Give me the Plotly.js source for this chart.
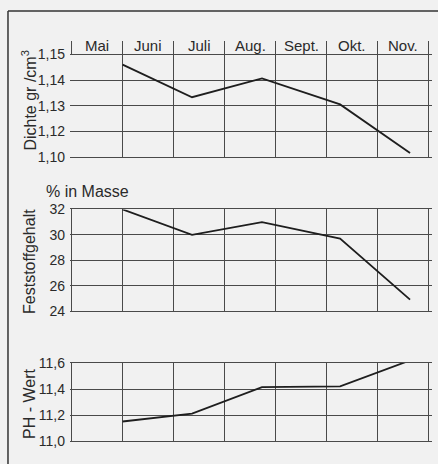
<!DOCTYPE html>
<html>
<head>
<meta charset="utf-8">
<script src="https://cdn.plot.ly/plotly-3.0.1.min.js"></script>
<style>html,body{margin:0;padding:0;background:#f1f1f1;}#chart{width:438px;height:464px;}</style>
</head>
<body>
<div id="chart"></div>
<script>
// Month columns (x axis: 0 = start of Mai, 7 = end of Nov.)
const months = ['Mai', 'Juni', 'Juli', 'Aug.', 'Sept.', 'Okt.', 'Nov.'];
const monthCenters = [0.5, 1.5, 2.5, 3.5, 4.5, 5.5, 6.5];
const monthBounds = [0, 1, 2, 3, 4, 5, 6, 7];
const monthBoundsTop = [1, 2, 3, 4, 5, 6, 7];
// Sampling positions (in month units from start of Mai)
const samplePos = [1.0, 2.36, 3.73, 5.26, 6.63];

// Dichte gr/cm3 (axis as printed: bottom line labelled 1,10)
const dichte = [1.146, 1.1333, 1.1406, 1.1305, 1.1116];
const dichteTicks = [1.11, 1.12, 1.13, 1.14, 1.15];
const dichteTickText = ['1,10', '1,12', '1,13', '1,14', '1,15'];

// Feststoffgehalt, % in Masse
const feststoff = [32.0, 30.0, 31.0, 29.7, 24.9];
const feststoffTicks = [24, 26, 28, 30, 32];
const feststoffTickText = ['24', '26', '28', '30', '32'];

// PH - Wert
const ph = [11.15, 11.21, 11.415, 11.42, 11.62];
const phTicks = [11.0, 11.2, 11.4, 11.6];
const phTickText = ['11,0', '11,2', '11,4', '11,6'];

// Axis titles
const yTitles = ['Dichte gr /cm<sup>3</sup>', 'Feststoffgehalt', 'PH - Wert'];
const yTitleCenters = [0.851, 0.45, 0.0925];
const unitLabel = '% in Masse';

const FONT = 'Liberation Sans, Arial, sans-serif';
const INK = '#2a2a2a';
const GRID = '#4a4a4a';

const lineStyle = {color: '#1e1e1e', width: 1.8};
const traces = [
  {x: samplePos, y: dichte, xaxis: 'x', yaxis: 'y', mode: 'lines', line: lineStyle, cliponaxis: false, hoverinfo: 'skip'},
  {x: samplePos, y: feststoff, xaxis: 'x2', yaxis: 'y2', mode: 'lines', line: lineStyle, cliponaxis: false, hoverinfo: 'skip'},
  {x: samplePos, y: ph, xaxis: 'x3', yaxis: 'y3', mode: 'lines', line: lineStyle, cliponaxis: false, hoverinfo: 'skip'}
];

function xAx(anchor, vals, mirror) {
  return {
    anchor: anchor, range: [-0.03, 7.06], tickvals: vals, showticklabels: false,
    showgrid: true, gridcolor: GRID, gridwidth: 1, zeroline: false,
    showline: true, linecolor: GRID, linewidth: 1, mirror: mirror, ticks: '', fixedrange: true
  };
}
function yAx(anchor, domain, range, vals, text) {
  return {
    anchor: anchor, domain: domain, range: range, tickvals: vals, ticktext: text,
    showgrid: true, gridcolor: GRID, gridwidth: 1, zeroline: false, showline: false,
    ticks: '', ticklabelstandoff: 4,
    tickfont: {family: FONT, size: 14, color: INK},
    fixedrange: true
  };
}

const annotations = months.map((m, i) => ({
  text: m, x: monthCenters[i], y: 1.1536, xref: 'x', yref: 'y',
  xanchor: 'center', yanchor: 'middle', showarrow: false,
  font: {family: FONT, size: 15, color: INK}
}));
annotations.push({
  text: unitLabel, x: -0.072, y: 0.625, xref: 'paper', yref: 'paper',
  xanchor: 'left', yanchor: 'middle', showarrow: false,
  font: {family: FONT, size: 16, color: INK}
});
yTitles.forEach((t, i) => annotations.push({
  text: t, x: -0.1133, y: yTitleCenters[i], xref: 'paper', yref: 'paper',
  xanchor: 'center', yanchor: 'middle', textangle: -90, showarrow: false,
  font: {family: FONT, size: 16, color: INK}
}));

const layout = {
  width: 438, height: 464,
  margin: {l: 70, r: 6, t: 41, b: 23},
  paper_bgcolor: '#f1f1f1', plot_bgcolor: '#f1f1f1',
  showlegend: false,
  xaxis: xAx('y', monthBoundsTop, false),
  xaxis2: xAx('y2', monthBounds, true),
  xaxis3: xAx('y3', monthBounds, true),
  yaxis: yAx('x', [0.71, 1.0], [1.11, 1.1552], dichteTicks, dichteTickText),
  yaxis2: yAx('x2', [0.325, 0.579], [24, 32], feststoffTicks, feststoffTickText),
  yaxis3: yAx('x3', [0, 0.195], [11.0, 11.6], phTicks, phTickText),
  annotations: annotations,
  shapes: [
    // short divider before "Mai" in the month label row
    {type: 'line', xref: 'x', yref: 'y', x0: 0, x1: 0, y0: 1.15, y1: 1.1552, line: {color: GRID, width: 1}},
    // outer frame of the figure
    {type: 'line', xref: 'paper', yref: 'paper', x0: -0.1713, x1: -0.1713, y0: 1.075, y1: -0.1, line: {color: '#333', width: 1.5}},
    {type: 'line', xref: 'paper', yref: 'paper', x0: -0.1713, x1: 1.1, y0: 1.075, y1: 1.075, line: {color: '#333', width: 1.5}}
  ]
};

Plotly.newPlot('chart', traces, layout, {staticPlot: true, displayModeBar: false});
</script>
</body>
</html>
